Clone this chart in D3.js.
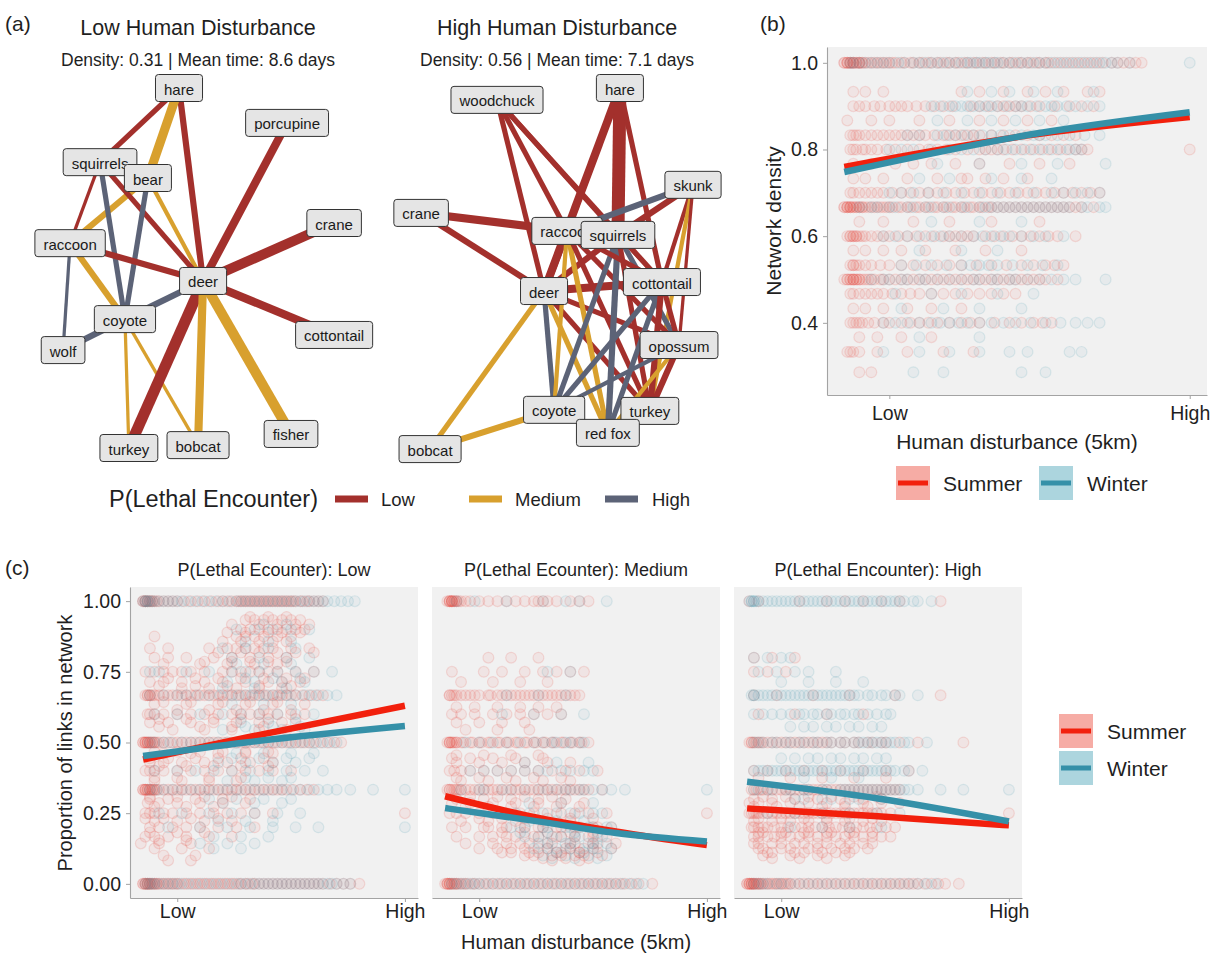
<!DOCTYPE html>
<html>
<head>
<meta charset="utf-8">
<script src="https://cdn.jsdelivr.net/npm/d3@7"></script>
<style>
  body { margin: 0; background: #fff; }
  svg { font-family: "Liberation Sans", Arial, sans-serif; }
</style>
</head>
<body>
<svg id="fig" width="1211" height="955"></svg>
<script>
// ---------------- Panel (a): co-occurrence networks ----------------
const lethalLevels = ["Low", "Medium", "High"];
const lethalColors = ["#a3302c", "#d8a02e", "#5c6377"];

// node layout coordinates (unit square) for each network
const lowNodes = [
  ["hare", 0.425, 0.000], ["porcupine", 0.811, 0.097], ["squirrels", 0.143, 0.206],
  ["bear", 0.314, 0.250], ["crane", 0.979, 0.375], ["raccoon", 0.036, 0.431],
  ["deer", 0.511, 0.536], ["coyote", 0.232, 0.642], ["cottontail", 0.979, 0.686],
  ["wolf", 0.011, 0.728], ["fisher", 0.825, 0.961], ["turkey", 0.246, 1.000],
  ["bobcat", 0.493, 0.992]
];
// [from, to, lethal level, link weight]
const lowEdges = [
  ["hare", "squirrels", "Low", 5], ["hare", "deer", "Low", 6], ["hare", "bear", "Medium", 9],
  ["bear", "raccoon", "Medium", 6], ["bear", "deer", "Medium", 4], ["squirrels", "deer", "Low", 5],
  ["squirrels", "raccoon", "Low", 3], ["squirrels", "coyote", "High", 5], ["bear", "coyote", "High", 5],
  ["raccoon", "deer", "Low", 6], ["raccoon", "wolf", "High", 3], ["raccoon", "coyote", "Medium", 6],
  ["coyote", "bobcat", "Medium", 3], ["coyote", "turkey", "Medium", 3], ["coyote", "deer", "High", 6],
  ["coyote", "wolf", "High", 6], ["deer", "turkey", "Low", 11], ["deer", "bobcat", "Medium", 8],
  ["deer", "fisher", "Medium", 10], ["deer", "porcupine", "Low", 8], ["deer", "crane", "Low", 10],
  ["deer", "cottontail", "Low", 8]
];

const highNodes = [
  ["woodchuck", 0.275, 0.033], ["hare", 0.714, 0.000], ["skunk", 0.975, 0.269],
  ["crane", 0.004, 0.347], ["raccoon", 0.525, 0.397], ["squirrels", 0.707, 0.408],
  ["cottontail", 0.864, 0.539], ["deer", 0.443, 0.564], ["opossum", 0.925, 0.714],
  ["coyote", 0.479, 0.894], ["turkey", 0.821, 0.897], ["red fox", 0.671, 0.958],
  ["bobcat", 0.036, 1.003]
];
const highEdges = [
  ["woodchuck", "deer", "Low", 5], ["woodchuck", "raccoon", "Low", 5], ["woodchuck", "squirrels", "Low", 5],
  ["woodchuck", "cottontail", "Low", 5], ["hare", "squirrels", "Low", 13], ["hare", "deer", "Low", 8],
  ["hare", "raccoon", "Low", 6], ["hare", "cottontail", "Low", 5], ["crane", "raccoon", "Low", 8],
  ["crane", "deer", "Low", 6], ["skunk", "raccoon", "High", 6], ["skunk", "squirrels", "Low", 6],
  ["skunk", "cottontail", "Low", 4], ["skunk", "turkey", "Medium", 4], ["skunk", "opossum", "Low", 3],
  ["deer", "cottontail", "Low", 8], ["deer", "raccoon", "Low", 7], ["deer", "squirrels", "Low", 6],
  ["deer", "coyote", "High", 5], ["deer", "red fox", "Medium", 5], ["deer", "opossum", "Low", 5],
  ["deer", "turkey", "Low", 5], ["deer", "bobcat", "Medium", 5], ["bobcat", "coyote", "Medium", 6],
  ["coyote", "red fox", "Medium", 5], ["raccoon", "coyote", "Medium", 4], ["raccoon", "red fox", "Medium", 5],
  ["raccoon", "turkey", "Low", 5], ["raccoon", "opossum", "Low", 5], ["squirrels", "coyote", "High", 5],
  ["squirrels", "red fox", "High", 6], ["squirrels", "opossum", "High", 5], ["squirrels", "turkey", "Low", 5],
  ["cottontail", "coyote", "High", 5], ["cottontail", "red fox", "High", 5], ["cottontail", "turkey", "Low", 6],
  ["cottontail", "opossum", "Low", 5], ["opossum", "coyote", "High", 4], ["opossum", "red fox", "Medium", 4],
  ["opossum", "turkey", "Low", 6], ["raccoon", "cottontail", "Low", 5], ["squirrels", "cottontail", "Low", 4],
  ["red fox", "turkey", "Low", 5]
];

const networkTitles = ["Low Human Disturbance", "High Human Disturbance"];
const networkStats = ["Density: 0.31 | Mean time: 8.6 days", "Density: 0.56 | Mean time: 7.1 days"];

// ---------------- Panel (b): network density ----------------
const seasons = ["Summer", "Winter"];
const disturbanceTicks = [0, 1];
const disturbanceLabels = ["Low", "High"];
const densityTicks = [0.4, 0.6, 0.8, 1.0];
const proportionTicks = [0, 0.25, 0.5, 0.75, 1.0];

// observed densities: [density, disturbance values (x100) of sites]
const densitySummer = [
  [1.000, "-15 -14 -14 -13 -13 -12 -12 -11 -10 -10 -9 -8 -6 -4 -2 0 2 5 8 11 14 17 20 23 26 29 32 35 38 41 44 47 50 53 57 61 65 69 74 78 82"],
  [1.000, "-15 -14 -13 -12 -11 -10 -9 -7 -5 -3 -1 1 4 7 10 13 16 19 22 25 28 31 34 37 40 43 46 49 52 55 59 63 67 71 76 80 84"],
  [0.933, "-12 -8 -2 24 30 38 46 52 58 66 70"],
  [0.900, "-12 -8 -3 2 6 12 18 30 36 40 44 50 60 68"],
  [0.900, "-10 -5 0 4 9 15 21 27 33 38 42 47 55 64"],
  [0.867, "-14 -6 0 10 20 30 38 46 54"],
  [0.833, "-13 -11 -8 -4 0 4 8 12 18 22 26 30 38 46 54 62"],
  [0.833, "-12 -10 -6 -2 2 6 10 15 20 24 28 34 42 50 58"],
  [0.800, "-13 -11 -8 -4 2 10 16 22 30 34 38 44 50 56 62 66 100"],
  [0.800, "-12 -9 -6 -1 6 13 19 26 32 36 41 47 53 59 64"],
  [0.767, "-12 -6 2 8 14 22 30 40 50 60"],
  [0.733, "-12 -8 -2 6 16 24 26 32 38 46"],
  [0.700, "-13 -10 -6 -2 4 10 16 22 28 34 40 46 52 58 64 70"],
  [0.700, "-12 -8 -4 1 7 13 19 25 31 37 43 49 55 61 67"],
  [0.667, "-15 -14 -14 -13 -13 -12 -11 -10 -9 -8 -6 -4 -2 0 3 6 9 12 15 18 21 24 27 30 33 36 40 44 48 52 56 60 64 68"],
  [0.667, "-15 -14 -13 -12 -11 -10 -9 -7 -5 -3 -1 1 4 7 10 13 16 19 22 25 28 31 34 38 42 46 50 54 58 62"],
  [0.633, "-10 -2 8 20 34 50"],
  [0.600, "-14 -13 -12 -11 -10 -8 -4 0 6 12 18 22 26 32 38 44 50 56 62"],
  [0.600, "-13 -12 -11 -9 -6 -2 3 9 15 20 24 28 35 41 47 53"],
  [0.567, "-12 -8 -2 4 12 22 32 44"],
  [0.533, "-13 -12 -10 -6 0 8 16 24 34 44 52 58"],
  [0.533, "-12 -11 -8 -3 4 12 20 29 39 48 55"],
  [0.500, "-14 -13 -12 -12 -11 -10 -8 -6 -3 0 4 8 12 16 20 24 28 32 36 40 44 48 52"],
  [0.500, "-15 -14 -13 -12 -11 -10 -9 -7 -5 -2 2 6 10 14 18 22 26 30 34 38 42 46 50 56"],
  [0.467, "-13 -10 -6 -2 4 10 18 26 34 42"],
  [0.467, "-12 -8 -4 1 7 14 22 30 38"],
  [0.433, "-12 -8 -2 6 14 24"],
  [0.400, "-13 -11 -10 -7 -2 4 10 16 24 30 40 48 54"],
  [0.400, "-12 -9 -5 0 7 13 20 27 35 44 51"],
  [0.367, "-10 -4 4 14"],
  [0.333, "-14 -13 -12 -10 -4 6 18 28"],
  [0.286, "-10 -6"]
];
const densityWinter = [
  [1.000, "-13 -10 -6 -2 3 8 12 16 20 24 27 30 33 36 40 44 48 52 56 60 64 68 72 76 80 100"],
  [1.000, "-12 -8 -4 0 5 10 14 18 22 26 29 32 35 38 42 46 50 54 58 62 66 70 74"],
  [0.933, "26 34 40 48 56 68"],
  [0.900, "14 20 24 28 32 36 42 46 52 56 62 70"],
  [0.900, "17 22 26 30 34 39 44 49 54 59 66"],
  [0.867, "16 26 34 42 50 58"],
  [0.833, "6 16 22 28 34 40 48 52 60 70"],
  [0.833, "10 19 25 31 37 44 50 56 65"],
  [0.800, "0 8 20 28 36 42 48 54 60 64"],
  [0.800, "4 14 24 32 39 45 51 57 62"],
  [0.767, "16 30 44 56 72"],
  [0.733, "10 20 34 44 54"],
  [0.700, "0 8 18 30 42 54 62 70"],
  [0.700, "4 13 24 36 48 58 66"],
  [0.667, "-10 -4 2 8 14 20 26 32 36 40 44 48 52 56 60 66 72"],
  [0.667, "-6 0 6 12 18 24 30 34 38 42 46 50 54 58 64 70"],
  [0.633, "14 30 44"],
  [0.600, "-2 6 14 20 28 34 40 48 58"],
  [0.600, "2 10 17 24 31 37 44 52"],
  [0.567, "10 24 36"],
  [0.533, "4 14 24 30 36 46 56"],
  [0.533, "9 19 27 33 41 51"],
  [0.500, "-6 0 6 12 20 28 34 40 46 54 62 72"],
  [0.500, "-2 4 10 16 24 30 36 42 50 58"],
  [0.467, "2 14 24 36 48"],
  [0.433, "4 18 30 44"],
  [0.400, "-2 6 14 20 26 34 42 52 62 70"],
  [0.400, "2 10 17 23 30 38 47 57 66"],
  [0.367, "10 30"],
  [0.333, "-2 10 20 30 40 46 60 64"],
  [0.286, "8 18 44 52"]
];
// fitted density trend: [disturbance, density]
const densityFitSummer = [[-0.15, 0.760], [0.5, 0.836], [1.0, 0.875]];
const densityFitWinter = [[-0.15, 0.748], [0.5, 0.838], [1.0, 0.886]];

// ---------------- Panel (c): proportion of links by lethal-encounter risk ----------------
const facetTitles = ["P(Lethal Ecounter): Low", "P(Lethal Ecounter): Medium", "P(Lethal Encounter): High"];

const lowRiskSummer = [
  [1.000, "-15 -14 -14 -13 -12 -11 -10 -8 -4 0 6 12 18 22 26 28 30 32 34 36 38 40 42 44 46 48 50 52 55 58 62"],
  [1.000, "-15 -14 -13 -12 -11 -9 -6 -2 3 9 15 20 24 27 29 31 33 35 37 39 41 43 45 47 49 51 54 57 60 64"],
  [0.944, "32 40 48"], [0.933, "30 34 38 42 46 50 54"], [0.917, "24 36 44 52 58"],
  [0.900, "28 32 36 40 44 48 52 56"], [0.889, "22 30 40 46 54"],
  [0.875, "-10 26 30 34 38 44 50"], [0.857, "20 28 36 42 48"],
  [0.833, "-12 -4 14 22 26 30 34 38 42 50 58"], [0.818, "18 28 36 44 52 60"],
  [0.800, "-10 -4 4 16 24 32 40 48"], [0.786, "12 24 32 40 48"], [0.778, "-6 10 22 34 44"],
  [0.750, "-14 -10 -6 -2 2 6 12 20 24 28 32 36 40 44 52 60"], [0.727, "-4 8 18 28 38 48 56"],
  [0.714, "-12 -6 2 12 20 30 40 46 54"], [0.700, "-8 8 22 36 50"], [0.692, "2 14 26 36 46"],
  [0.667, "-14 -13 -12 -11 -8 -4 0 4 8 12 16 20 24 28 32 36 40 44 48 52 58 64"],
  [0.667, "-13 -12 -10 -6 -2 2 6 10 14 18 22 26 30 34 38 42 46 50 55 61"],
  [0.643, "-6 6 20 32 44"], [0.636, "-10 4 18 30 42 56"], [0.615, "0 14 26 38 50"],
  [0.600, "-13 -12 -10 -6 0 6 12 18 24 28 32 36 40 44 50 56"], [0.583, "-8 4 16 28 40 52"],
  [0.571, "-12 -4 6 16 26 36 46"], [0.556, "-8 10 24 38"], [0.545, "-2 12 24 36 48"],
  [0.500, "-15 -14 -14 -13 -13 -12 -11 -10 -8 -4 0 4 8 12 16 20 24 28 32 36 40 44 48 52 56 60 66 72"],
  [0.500, "-15 -14 -13 -12 -11 -10 -9 -6 -2 2 6 10 14 18 22 26 30 34 38 42 46 50 54 58 63 69"],
  [0.467, "-10 0 10 20 30 40"], [0.462, "-6 6 18 30 42"], [0.444, "-12 -4 8 18 28 38"],
  [0.429, "-12 -6 2 12 22 32 42"], [0.417, "-8 4 16 28 40"],
  [0.400, "-14 -12 -10 -6 0 6 12 18 24 30 36 42 50"], [0.375, "-10 0 14 28"], [0.364, "-10 2 14 26"],
  [0.333, "-15 -14 -14 -13 -12 -11 -10 -8 -4 0 4 8 12 16 20 24 28 32 36 40 44 48 54 60"],
  [0.333, "-15 -14 -13 -12 -11 -10 -9 -6 -2 2 6 10 14 18 22 26 30 34 38 42 46 51 57"],
  [0.308, "-12 0 12 24"], [0.300, "-12 -4 8 20 32"], [0.286, "-13 -8 0 10 20 30"], [0.273, "-10 4 16"],
  [0.250, "-14 -12 -10 -6 -2 4 10 16 22 28 34 42 100"], [0.231, "-14 -6 6 18"], [0.222, "-10 0 12 24"],
  [0.200, "-12 -8 -2 4 10 18 26 34"], [0.182, "-12 0 12"], [0.167, "-14 -10 -4 4 14 24"],
  [0.154, "-8 4"], [0.143, "-16 -8 6"], [0.125, "-10 2 14"], [0.100, "-6 8"], [0.083, "-4 6"],
  [0.000, "-15 -14 -14 -13 -13 -12 -12 -11 -10 -9 -8 -6 -4 -2 0 3 6 9 12 15 18 21 24 27 30 33 36 40 44 48 52 56 60 64 70 76 80"],
  [0.000, "-15 -14 -13 -12 -11 -10 -9 -7 -5 -3 -1 1 4 7 10 13 16 19 22 25 28 31 34 38 42 46 50 54 58 62 67 73"]
];
const lowRiskWinter = [
  [1.000, "-15 -14 -13 -12 -10 -6 -2 2 8 14 20 26 30 34 38 42 46 50 54 58 62 66 72 78"],
  [1.000, "-14 -13 -11 -8 -4 0 5 11 17 23 28 32 36 40 44 48 52 56 60 64 69 75"],
  [0.917, "38 48"], [0.900, "26 34 42 50 58"], [0.857, "30 40 50"], [0.833, "20 30 40 52"],
  [0.800, "24 36 48 58"], [0.778, "26 38 50"],
  [0.750, "-12 -8 4 14 24 30 36 44 52 60 68"], [0.727, "30 42 54"], [0.714, "22 34 46 56"], [0.692, "20 34 48"],
  [0.667, "-12 -6 4 14 24 30 36 42 48 56 62 70"], [0.667, "0 9 19 27 33 39 45 52 59 66"],
  [0.636, "24 38 50"], [0.600, "-10 0 10 20 28 36 44 52 60"], [0.571, "28 40 52"],
  [0.556, "30 42 54"], [0.545, "20 34 46 56"],
  [0.500, "-12 -6 2 10 18 26 34 40 46 52 58 64 70"], [0.500, "-10 -3 6 14 22 30 37 43 49 55 61 67"],
  [0.462, "26 38 50 60"], [0.444, "24 36 48 58"], [0.429, "18 30 42 52"],
  [0.400, "-10 0 8 16 24 32 40 48 56 64"], [0.375, "30 40 50"], [0.364, "22 34 46"],
  [0.333, "-12 -6 2 10 18 26 34 42 50 58 66 76 86 100"], [0.333, "-9 -2 6 14 22 30 38 46 54 62 70"],
  [0.300, "14 26 38 50"], [0.286, "20 34 46"], [0.250, "-8 2 14 24 34 44 54"],
  [0.222, "18 30 42"], [0.200, "-4 10 22 32 42 52 62 100"], [0.167, "16 28 40"],
  [0.143, "10 22 34"], [0.125, "16 28"],
  [0.000, "-14 -12 -10 -6 -2 2 8 14 20 26 30 34 38 42 46 50 54 58 62 66 70 76"],
  [0.000, "-13 -11 -8 -4 0 5 11 17 23 28 32 36 40 44 48 52 56 60 64 68 73"]
];
const medRiskSummer = [
  [1.000, "-14 -13 -13 -12 -12 -11 -10 -8 -4 4 12 20 26 30 40 48"],
  [1.000, "-13 -12 -12 -11 -10 -9 -6 0 8 16 24 28 34 44"],
  [0.800, "4 14 26"], [0.750, "-12 2 10 20 28 34 40 46"], [0.714, "-8 6 18 30"],
  [0.667, "-13 -12 -10 -6 -2 4 8 12 16 20 24 28 32 36 40 44"],
  [0.667, "-13 -11 -8 -4 0 5 10 14 18 22 26 30 34 38 42"],
  [0.625, "-10 -2 8 18 26 34"], [0.600, "-12 -8 -2 6 12 18 24 30 36"],
  [0.571, "-10 0 10 20"], [0.545, "-6 8 22"],
  [0.500, "-14 -13 -13 -12 -11 -10 -8 -4 0 4 8 12 16 20 24 28 32 36 40 44 48"],
  [0.500, "-13 -12 -10 -7 -3 1 5 9 13 17 21 25 29 33 37 41 45"],
  [0.455, "-10 2 14 26"], [0.444, "-12 -4 6 16 28"], [0.429, "-10 0 10 20 30 40"],
  [0.400, "-13 -11 -8 -4 2 8 14 20 26 32 38 44 52"], [0.375, "-10 0 12 24 36"], [0.364, "-8 4 16 28 40"],
  [0.333, "-14 -13 -12 -10 -8 -4 0 4 8 12 16 20 24 28 32 36 40 44 48 54"],
  [0.333, "-13 -11 -9 -6 -2 2 6 10 14 18 22 26 30 34 38 42 46"],
  [0.308, "-4 8 20 32"], [0.300, "-10 2 14 26 38"], [0.286, "-12 -4 6 16 26 36 46"],
  [0.273, "-6 4 14 24 34 44"],
  [0.250, "-13 -10 -6 0 6 12 18 24 30 36 42 48 56 100"], [0.231, "0 10 20 30 40 50"],
  [0.222, "-8 4 16 28 40"], [0.200, "-12 -6 2 10 18 26 34 42 50"], [0.200, "4 12 20 28 36 44 52 58"],
  [0.182, "10 20 30 40 50"], [0.167, "-10 0 12 24 36 48"], [0.167, "6 16 26 34 42 50 56"],
  [0.143, "-6 6 18 30 40 50"], [0.143, "12 22 32 42 52 60"], [0.125, "0 14 26 38 46"],
  [0.125, "8 20 30 40 50 58"], [0.111, "10 22 34 44"], [0.111, "14 26 36 44 52"],
  [0.100, "20 32 42"], [0.100, "24 36 46 54"], [0.091, "28 38 48"], [0.083, "32 44"],
  [0.000, "-14 -14 -13 -13 -12 -11 -10 -8 -6 -3 0 4 8 12 16 20 24 28 32 36 40 44 48 52 56 60 64 70 76"],
  [0.000, "-15 -14 -13 -12 -11 -10 -9 -7 -5 -2 2 6 10 14 18 22 26 30 34 38 42 46 50 54 58 62 67"]
];
const medRiskWinter = [
  [1.000, "-10 -2 12 28 38 44 56"], [0.750, "30 40"], [0.667, "12 26 38"], [0.600, "10 24 36 46"],
  [0.500, "-6 6 18 28 34 40 46"], [0.500, "0 12 24 32 38 44"], [0.429, "20 34 48"],
  [0.400, "-4 8 20 30 40 50"], [0.400, "2 14 26 36 46"],
  [0.333, "-8 2 14 26 34 40 46 54 64 100"], [0.333, "0 10 20 30 38 44 50 58"],
  [0.286, "22 36 50"], [0.250, "10 22 34 44 54"], [0.250, "16 28 40 50"], [0.222, "22 34 46"],
  [0.200, "14 28 38 48 58"], [0.200, "20 30 40 50 56"], [0.182, "18 30 42 52"],
  [0.167, "20 32 42 52"], [0.167, "26 36 44 54"], [0.143, "26 38 48"], [0.143, "30 40 50 56"],
  [0.125, "30 40 50 58"], [0.125, "24 34 44 52"], [0.111, "34 46"], [0.100, "28 38 48 56"],
  [0.091, "32 42 52"],
  [0.000, "-12 -8 -4 0 6 12 18 24 30 36 42 48 54 60 66 72"],
  [0.000, "-10 -6 -2 3 9 15 21 27 33 39 45 51 57 63 69"]
];
const highRiskSummer = [
  [1.000, "-14 -10 8 20 28 36 44 52 70"], [0.800, "-12 -4 6"], [0.750, "-12 -6 2"],
  [0.667, "-12 -2 14 30 50 70"], [0.600, "-10 6 20 36"],
  [0.500, "-14 -13 -12 -10 -8 -4 0 4 8 12 16 20 26 32 38 44 52 60 80"],
  [0.500, "-13 -11 -9 -6 -2 2 6 10 14 18 22 28 34 40 46"],
  [0.400, "-12 -6 2 10 18 26 36 46 56"], [0.375, "-10 4 18 32 46"],
  [0.333, "-13 -11 -8 -4 0 4 8 12 16 20 24 28 32 36 40 44 48 52"],
  [0.333, "-12 -9 -6 -2 2 6 10 14 18 22 26 30 34 38 42 46 50"],
  [0.308, "-8 2 12 22 32 42"], [0.300, "-12 -4 6 16 26 36 44"],
  [0.286, "-14 -10 -4 4 12 20 28 36 44 52"], [0.273, "-12 -2 8 18 28 38"],
  [0.250, "-14 -12 -10 -6 -2 2 6 10 14 18 22 26 30 34 38 42 48 100"],
  [0.250, "-13 -11 -8 -4 0 4 8 12 16 20 24 28 32 36 40 44"],
  [0.231, "-10 0 10 20 30 40"], [0.222, "-12 -4 4 12 20 28 36 44"],
  [0.200, "-13 -10 -6 0 6 12 18 24 30 36 42 50"], [0.200, "-12 -8 -3 3 9 15 21 27 33 39 46"],
  [0.182, "-8 2 12 22 32"], [0.182, "-10 0 10 20 30 40"],
  [0.167, "-12 -6 0 8 16 24 32 40 48"], [0.167, "-10 -3 4 12 20 28 36 44"],
  [0.143, "-10 0 10 20 30 40"], [0.143, "-12 -4 6 16 26 36"],
  [0.125, "-8 4 16 28 38"], [0.125, "-10 0 12 22 32"], [0.111, "-4 10 24"], [0.111, "-6 6 18 30"],
  [0.100, "-8 4 16 28"], [0.091, "-4 8 20"],
  [0.000, "-15 -14 -14 -13 -13 -12 -12 -11 -10 -9 -8 -6 -4 -2 0 2 4 8 12 16 20 24 28 32 36 40 44 48 52 56 60 66 72 78"],
  [0.000, "-15 -14 -13 -12 -11 -10 -9 -7 -5 -3 -1 1 3 6 10 14 18 22 26 30 34 38 42 46 50 54 58 63 69"]
];
const highRiskWinter = [
  [1.000, "-14 -13 -12 -10 -6 -2 2 6 10 14 18 22 26 30 34 38 42 46 50 54 60 66"],
  [1.000, "-13 -12 -11 -8 -4 0 4 8 12 16 20 24 28 32 36 40 44 48 52 58"],
  [0.800, "-12 -6 0 4"], [0.750, "-10 -2 6 12 24"], [0.714, "0 12 24 36"],
  [0.667, "-13 -12 -10 -6 -2 2 6 10 14 18 22 26 30 34 40 46 52 60"],
  [0.667, "-12 -8 -4 0 4 8 12 16 20 24 28 32 38 44 50"],
  [0.600, "-12 -4 4 10 16 22 28 34 42 48"], [0.600, "-8 0 8 14 20 26 32 38 46"],
  [0.556, "10 20 30 40"], [0.556, "4 14 24 34 44"],
  [0.500, "-12 -8 -2 4 10 16 22 28 34 38 42 46 50 56 64"], [0.500, "-10 -4 2 8 14 20 26 32 36 40 44 48 54"],
  [0.444, "6 16 26 36 46"], [0.444, "0 12 22 32 42"],
  [0.400, "-12 -8 -4 0 4 8 12 16 20 24 28 32 36 40 44 48 54 62"],
  [0.400, "-10 -6 -2 2 6 10 14 18 22 26 30 34 38 42 46 50 56"],
  [0.375, "10 22 34"],
  [0.333, "-12 -6 2 10 18 26 30 34 38 42 46 50 54 60 70 80 100"],
  [0.333, "-10 -4 4 12 20 28 32 36 40 44 48 52 56"],
  [0.300, "6 18 30"], [0.300, "10 22 34 44"], [0.250, "-6 6 18 30 42 52"], [0.200, "4 18 30 44"],
  [0.000, "-12 -8 -2 4 12 20 28 36 44 52 60 68"], [0.000, "-10 -6 0 8 16 24 32 40 48 56 64"]
];
// fitted trends per risk class: [disturbance, proportion]
const lowRiskFitSummer = [[-0.15, 0.440], [0.30, 0.517], [1.0, 0.630]];
const lowRiskFitWinter = [[-0.15, 0.452], [0.30, 0.500], [1.0, 0.558]];
const medRiskFitSummer = [[-0.15, 0.310], [0.25, 0.235], [0.60, 0.185], [1.0, 0.137]];
const medRiskFitWinter = [[-0.15, 0.268], [0.25, 0.222], [0.60, 0.180], [1.0, 0.150]];
const highRiskFitSummer = [[-0.15, 0.267], [0.425, 0.239], [1.0, 0.207]];
const highRiskFitWinter = [[-0.15, 0.361], [0.425, 0.302], [1.0, 0.221]];

// ---------------- drawing ----------------
const svg = d3.select("#fig");
const pointColor = { Summer: "#e2463b", Winter: "#4a97ad" };
const lineColor = { Summer: "#f2200d", Winter: "#3590a8" };
const keyFill = { Summer: "#f6aca5", Winter: "#acd5de" };
const panelFill = "#f1f1f1";
const axisGrey = "#a3a3a3";
const textCol = "#1f1f1f";

// soft edges for the translucent point markers
svg.append("defs").append("filter").attr("id", "soft")
  .attr("x", "-5%").attr("y", "-5%").attr("width", "110%").attr("height", "110%")
  .append("feGaussianBlur").attr("stdDeviation", 0.7);

function rowsToPoints(rows) {
  const pts = [];
  rows.forEach(([y, xs]) => xs.trim().split(/\s+/).forEach(v => pts.push({ x: +v / 100, y })));
  return pts;
}

// panel letters
[["(a)", 5, 23], ["(b)", 760, 23], ["(c)", 5, 567]].forEach(([t, x, y]) =>
  svg.append("text").attr("x", x).attr("y", y).attr("dominant-baseline", "central")
    .attr("font-size", 21).attr("fill", textCol).text(t));

// ----- networks -----
const levelColor = d3.scaleOrdinal(lethalLevels, lethalColors);
const edgeWidth = d3.scaleLinear([1, 13], [1.3, 13]);

function drawNetwork(nodes, edges, x0, title, stats, cx) {
  const g = svg.append("g");
  const nx = d3.scaleLinear([0, 1], [x0, x0 + 280]);
  const ny = d3.scaleLinear([0, 1], [88, 448]);
  const pos = new Map(nodes.map(([n, u, v]) => [n, [nx(u), ny(v)]]));

  g.append("text").attr("x", cx).attr("y", 28).attr("text-anchor", "middle")
    .attr("dominant-baseline", "central").attr("font-size", 21.5).attr("fill", textCol).text(title);
  g.append("text").attr("x", cx).attr("y", 60).attr("text-anchor", "middle")
    .attr("dominant-baseline", "central").attr("font-size", 17.5).attr("fill", textCol).text(stats);

  g.selectAll("line.edge").data(edges).join("line")
    .attr("class", "edge")
    .attr("x1", d => pos.get(d[0])[0]).attr("y1", d => pos.get(d[0])[1])
    .attr("x2", d => pos.get(d[1])[0]).attr("y2", d => pos.get(d[1])[1])
    .attr("stroke", d => levelColor(d[2]))
    .attr("stroke-width", d => edgeWidth(d[3]));

  const lab = g.selectAll("g.node").data(nodes).join("g")
    .attr("class", "node")
    .attr("transform", d => `translate(${pos.get(d[0])[0]},${pos.get(d[0])[1]})`);
  lab.each(function (d) {
    const s = d3.select(this);
    const rect = s.append("rect");
    const t = s.append("text").attr("text-anchor", "middle").attr("dominant-baseline", "central")
      .attr("y", 1).attr("font-size", 15).attr("fill", "#1a1a1a").text(d[0]);
    const w = t.node().getComputedTextLength() + 17;
    rect.attr("x", -w / 2).attr("y", -13.5).attr("width", w).attr("height", 27).attr("rx", 3)
      .attr("fill", "#e5e5e5").attr("stroke", "#333").attr("stroke-width", 1);
  });
}
drawNetwork(lowNodes, lowEdges, 60, networkTitles[0], networkStats[0], 198);
drawNetwork(highNodes, highEdges, 420, networkTitles[1], networkStats[1], 557);

// network legend
{
  const g = svg.append("g");
  g.append("text").attr("x", 109).attr("y", 499).attr("dominant-baseline", "central")
    .attr("font-size", 23.5).attr("fill", textCol).text("P(Lethal Encounter)");
  const keyX = [335, 469, 605];
  const labX = [381, 515, 652];
  lethalLevels.forEach((lv, i) => {
    g.append("rect").attr("x", keyX[i]).attr("y", 495.5).attr("width", 33).attr("height", 7)
      .attr("fill", levelColor(lv));
    g.append("text").attr("x", labX[i]).attr("y", 499).attr("dominant-baseline", "central")
      .attr("font-size", 18.5).attr("fill", textCol).text(lv);
  });
}

// ----- scatter panels -----
function drawScatterPanel(opt) {
  const g = svg.append("g");
  const x = d3.scaleLinear([-0.2075, 1.0575], [opt.left, opt.left + opt.width]);
  const y = d3.scaleLinear(opt.yDomain, [opt.bottom, opt.top]);
  const clipId = "clip" + opt.id;
  svg.append("clipPath").attr("id", clipId).append("rect")
    .attr("x", opt.left).attr("y", opt.top).attr("width", opt.width).attr("height", opt.bottom - opt.top);

  g.append("rect").attr("x", opt.left).attr("y", opt.top).attr("width", opt.width)
    .attr("height", opt.bottom - opt.top).attr("fill", panelFill);

  const pg = g.append("g").attr("clip-path", `url(#${clipId})`);
  const dots = pg.append("g").attr("filter", "url(#soft)");
  seasons.forEach(s => {
    dots.append("g").selectAll("circle").data(rowsToPoints(opt.points[s])).join("circle")
      .attr("cx", d => x(d.x)).attr("cy", d => y(d.y)).attr("r", 5.4)
      .attr("fill", pointColor[s]).attr("fill-opacity", 0.075)
      .attr("stroke", pointColor[s]).attr("stroke-opacity", 0.15).attr("stroke-width", 1.2);
  });
  const line = d3.line().x(d => x(d[0])).y(d => y(d[1])).curve(d3.curveMonotoneX);
  seasons.forEach(s => {
    pg.append("path").attr("d", line(opt.fits[s])).attr("fill", "none")
      .attr("stroke", lineColor[s]).attr("stroke-width", 6.5).attr("stroke-linecap", "butt");
  });

  const xa = g.append("g").attr("transform", `translate(0,${opt.bottom})`)
    .call(d3.axisBottom(x).tickValues(disturbanceTicks)
      .tickFormat((d, i) => disturbanceLabels[i]).tickSize(4).tickSizeOuter(0).tickPadding(opt.xPad));
  styleAxis(xa);
  if (opt.yTicks) {
    const ya = g.append("g").attr("transform", `translate(${opt.left},0)`)
      .call(d3.axisLeft(y).tickValues(opt.yTicks).tickFormat(opt.yFormat)
        .tickSize(4).tickSizeOuter(0).tickPadding(5));
    styleAxis(ya);
  }
  return { x, y, g };
}
function styleAxis(a) {
  a.select(".domain").attr("stroke", axisGrey).attr("stroke-width", 1.1);
  a.selectAll(".tick line").attr("stroke", axisGrey);
  a.selectAll(".tick text").attr("fill", textCol).attr("font-size", 19.5)
    .attr("font-family", '"Liberation Sans", Arial, sans-serif');
}

// panel (b)
drawScatterPanel({
  id: "b", left: 827, width: 380, top: 47, bottom: 395, xPad: 7,
  yDomain: [0.2335, 1.0365], yTicks: densityTicks, yFormat: d3.format(".1f"),
  points: { Summer: densitySummer, Winter: densityWinter },
  fits: { Summer: densityFitSummer, Winter: densityFitWinter }
});
svg.append("text").attr("transform", "translate(773,221) rotate(-90)").attr("text-anchor", "middle")
  .attr("dominant-baseline", "central").attr("font-size", 21).attr("fill", textCol).text("Network density");
svg.append("text").attr("x", 1017).attr("y", 441).attr("text-anchor", "middle")
  .attr("dominant-baseline", "central").attr("font-size", 21).attr("fill", textCol).text("Human disturbance (5km)");

function seasonKey(x, y, s) {
  svg.append("rect").attr("x", x).attr("y", y).attr("width", 34).attr("height", 34).attr("fill", keyFill[s]);
  svg.append("rect").attr("x", x + 2).attr("y", y + 14.5).attr("width", 30).attr("height", 5).attr("fill", lineColor[s]);
}
// legend (b)
seasonKey(896, 466, "Summer");
svg.append("text").attr("x", 943).attr("y", 483).attr("dominant-baseline", "central")
  .attr("font-size", 21).attr("fill", textCol).text("Summer");
seasonKey(1039, 466, "Winter");
svg.append("text").attr("x", 1087).attr("y", 483).attr("dominant-baseline", "central")
  .attr("font-size", 21).attr("fill", textCol).text("Winter");

// panel (c) facets
const facets = [
  { pts: { Summer: lowRiskSummer, Winter: lowRiskWinter }, fit: { Summer: lowRiskFitSummer, Winter: lowRiskFitWinter }, left: 130 },
  { pts: { Summer: medRiskSummer, Winter: medRiskWinter }, fit: { Summer: medRiskFitSummer, Winter: medRiskFitWinter }, left: 432 },
  { pts: { Summer: highRiskSummer, Winter: highRiskWinter }, fit: { Summer: highRiskFitSummer, Winter: highRiskFitWinter }, left: 734 }
];
facets.forEach((f, i) => {
  drawScatterPanel({
    id: "c" + i, left: f.left, width: 288, top: 587, bottom: 898, xPad: 2,
    yDomain: [-0.05, 1.05], yTicks: i === 0 ? proportionTicks : null, yFormat: d3.format(".2f"),
    points: f.pts, fits: f.fit
  });
  svg.append("text").attr("x", f.left + 144).attr("y", 570).attr("text-anchor", "middle")
    .attr("dominant-baseline", "central").attr("font-size", 18).attr("fill", textCol).text(facetTitles[i]);
});
svg.append("text").attr("transform", "translate(65,743) rotate(-90)").attr("text-anchor", "middle")
  .attr("dominant-baseline", "central").attr("font-size", 20).attr("fill", textCol).text("Proportion of links in network");
svg.append("text").attr("x", 576).attr("y", 942).attr("text-anchor", "middle")
  .attr("dominant-baseline", "central").attr("font-size", 20).attr("fill", textCol).text("Human disturbance (5km)");

// legend (c)
seasonKey(1059, 714, "Summer");
svg.append("text").attr("x", 1107).attr("y", 731).attr("dominant-baseline", "central")
  .attr("font-size", 21).attr("fill", textCol).text("Summer");
seasonKey(1059, 751, "Winter");
svg.append("text").attr("x", 1107).attr("y", 768).attr("dominant-baseline", "central")
  .attr("font-size", 21).attr("fill", textCol).text("Winter");
</script>
</body>
</html>
